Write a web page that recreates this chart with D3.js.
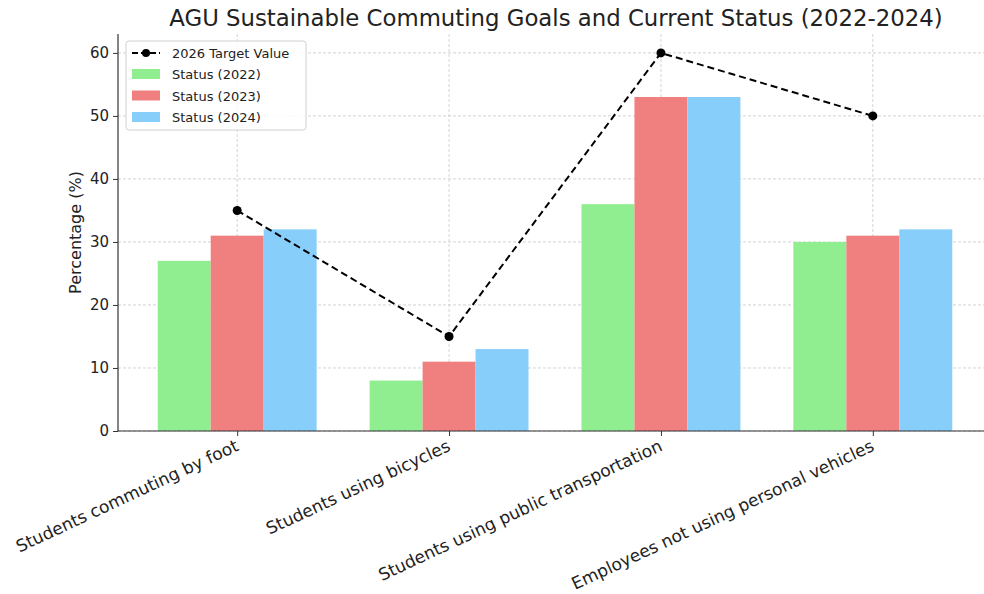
<!DOCTYPE html>
<html>
<head>
<meta charset="utf-8">
<script src="https://d3js.org/d3.v7.min.js"></script>
<style>
  body { margin: 0; background: #fff; }
  svg { font-family: "DejaVu Sans", sans-serif; }
</style>
</head>
<body>
<svg id="chart" width="984" height="594"></svg>
<script>
const categories = ["Students commuting by foot", "Students using bicycles",
  "Students using public transportation", "Employees not using personal vehicles"];
const status2022 = [27, 8, 36, 30];
const status2023 = [31, 11, 53, 31];
const status2024 = [32, 13, 53, 32];
const target2026 = [35, 15, 60, 50];
const yTicks = [0, 10, 20, 30, 40, 50, 60];

const series = [
  { name: "Status (2022)", values: status2022, color: "#90ee90", off: -1 },
  { name: "Status (2023)", values: status2023, color: "#f08080", off: 0 },
  { name: "Status (2024)", values: status2024, color: "#87cefa", off: 1 }
];

const W = 984, H = 594;
const mLeft = 118, mTop = 34, mBottom = 431;
const barW = 0.25;
const FONT = "DejaVu Sans, sans-serif";

const svg = d3.select("#chart");

// x in category units, matplotlib style margins
const x = d3.scaleLinear().domain([-0.5625, 3.5625]).range([mLeft, 992]);
const y = d3.scaleLinear().domain([0, 63]).range([mBottom, mTop]);

// grid
const grid = svg.append("g").attr("stroke", "#c8c8c8").attr("stroke-dasharray", "3,2").attr("stroke-width", 0.8);
grid.selectAll("line.h").data(yTicks).enter().append("line")
  .attr("x1", mLeft).attr("x2", W).attr("y1", d => y(d)).attr("y2", d => y(d));
grid.selectAll("line.v").data(categories).enter().append("line")
  .attr("x1", (d, i) => x(i)).attr("x2", (d, i) => x(i)).attr("y1", mTop).attr("y2", mBottom);

// bars
series.forEach(s => {
  svg.append("g").selectAll("rect").data(s.values).enter().append("rect")
    .attr("x", (d, i) => x(i + s.off * barW - barW / 2))
    .attr("width", x(barW) - x(0))
    .attr("y", d => y(d))
    .attr("height", d => y(0) - y(d))
    .attr("fill", s.color);
});

// target line
const line = d3.line().x((d, i) => x(i)).y(d => y(d));
svg.append("path").datum(target2026).attr("d", line)
  .attr("fill", "none").attr("stroke", "#000").attr("stroke-width", 2).attr("stroke-dasharray", "7,4");
svg.append("g").selectAll("circle").data(target2026).enter().append("circle")
  .attr("cx", (d, i) => x(i)).attr("cy", d => y(d)).attr("r", 4.5).attr("fill", "#000");

// axes
const yAxis = d3.axisLeft(y).tickValues(yTicks).tickSize(5).tickPadding(4);
const gy = svg.append("g").attr("transform", `translate(${mLeft},0)`).call(yAxis)
  .attr("font-family", FONT).attr("font-size", 15);
gy.select(".domain").attr("stroke", "#333").attr("stroke-width", 1.2).attr("d", `M0,${mTop}V${mBottom}`);
gy.selectAll(".tick line").attr("stroke", "#333");
gy.selectAll("text").attr("fill", "#222");

const xAxis = d3.axisBottom(x).tickValues(d3.range(categories.length)).tickFormat(i => categories[i]).tickSize(5);
const gx = svg.append("g").attr("transform", `translate(0,${mBottom})`).call(xAxis)
  .attr("font-family", FONT).attr("font-size", 17);
gx.select(".domain").attr("stroke", "#333").attr("stroke-width", 1.2).attr("d", `M${mLeft},0H${W}`);
gx.selectAll(".tick line").attr("stroke", "#333");
gx.selectAll("text").attr("fill", "#222")
  .attr("text-anchor", "end").attr("dy", null).attr("y", 0)
  .attr("transform", "translate(2,19) rotate(-25)");

// labels
svg.append("text").attr("x", 556).attr("y", 26).attr("text-anchor", "middle")
  .attr("font-size", 22.8).attr("fill", "#222").text("AGU Sustainable Commuting Goals and Current Status (2022-2024)");
svg.append("text").attr("transform", `translate(81,${(mTop + mBottom) / 2}) rotate(-90)`)
  .attr("text-anchor", "middle").attr("font-size", 16).attr("fill", "#222").text("Percentage (%)");

// legend
const lg = svg.append("g").attr("transform", "translate(126,41)");
lg.append("rect").attr("width", 180).attr("height", 89).attr("rx", 3)
  .attr("fill", "#fff").attr("fill-opacity", 0.85).attr("stroke", "#d0d0d0");
lg.append("line").attr("x1", 6).attr("x2", 34).attr("y1", 12).attr("y2", 12)
  .attr("stroke", "#000").attr("stroke-width", 2).attr("stroke-dasharray", "6,3");
lg.append("circle").attr("cx", 20).attr("cy", 12).attr("r", 4).attr("fill", "#000");
lg.append("text").attr("x", 46).attr("y", 17).attr("font-size", 13).attr("fill", "#222").text("2026 Target Value");
series.forEach((s, i) => {
  lg.append("rect").attr("x", 6).attr("y", 33 + i * 21.5 - 5).attr("width", 28).attr("height", 10).attr("fill", s.color);
  lg.append("text").attr("x", 46).attr("y", 33 + i * 21.5 + 5).attr("font-size", 13).attr("fill", "#222").text(s.name);
});
</script>
</body>
</html>
